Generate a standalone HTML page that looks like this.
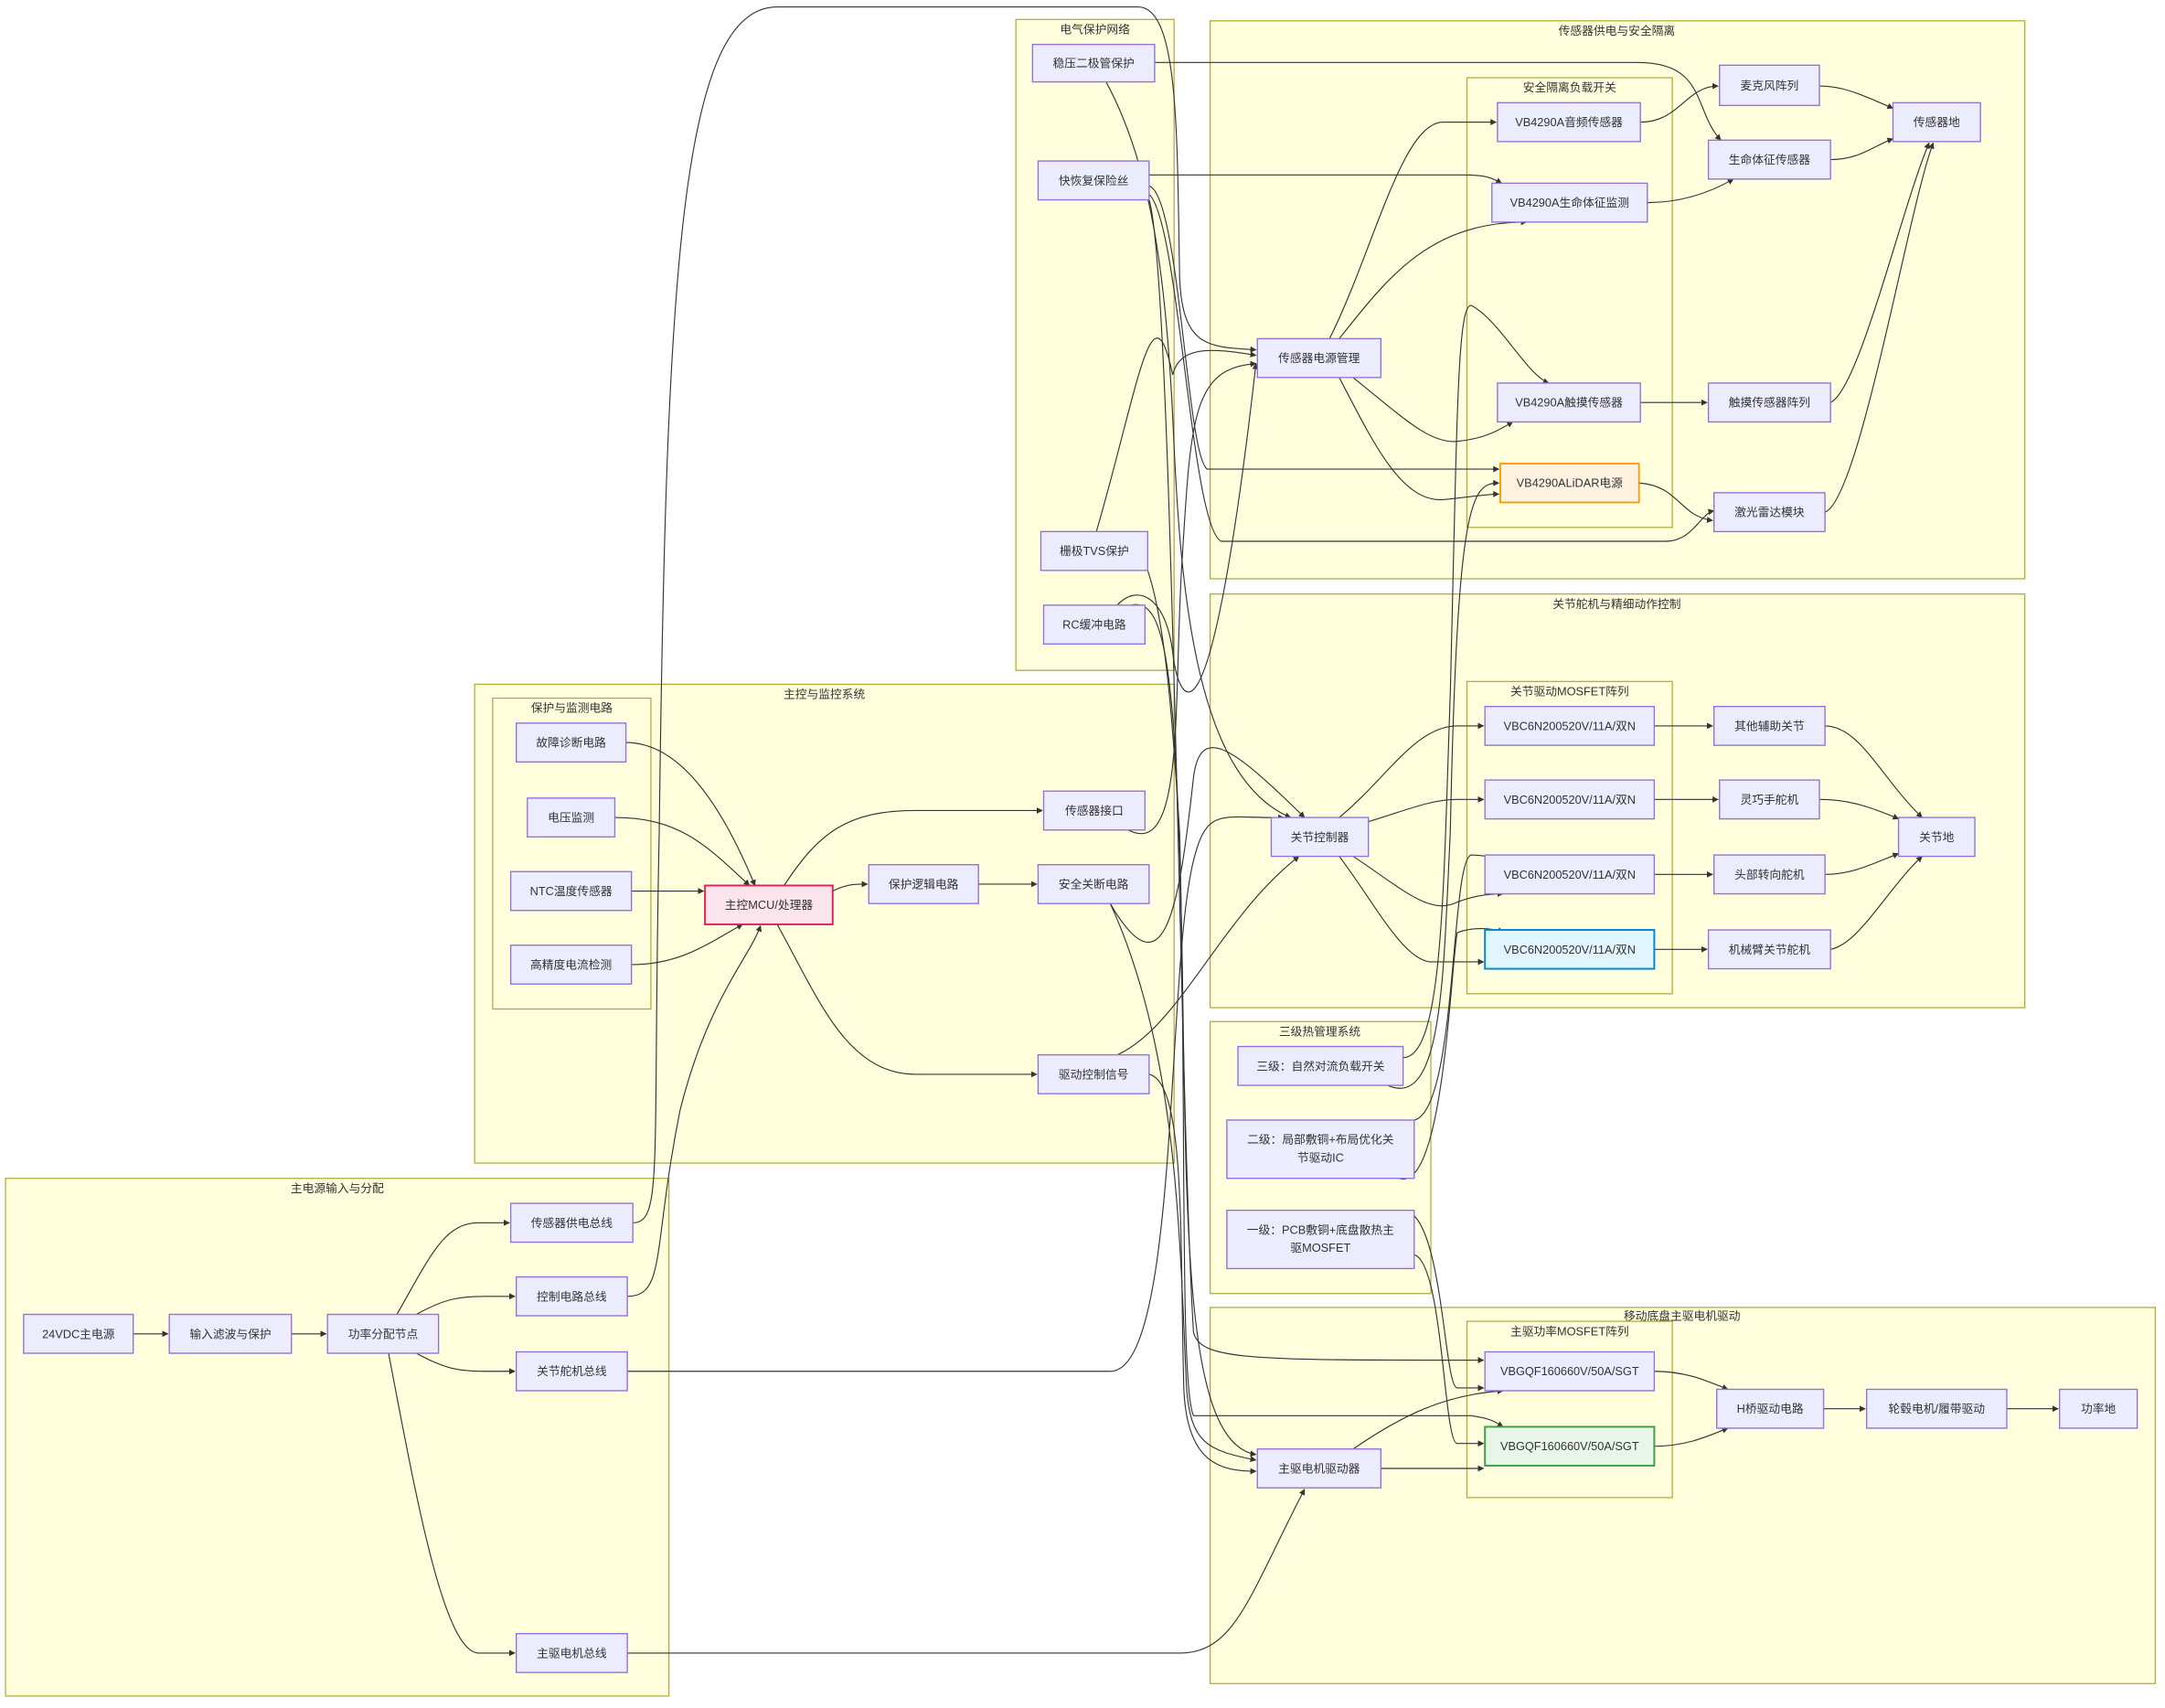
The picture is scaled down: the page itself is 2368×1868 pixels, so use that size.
<!DOCTYPE html>
<html><head><meta charset="utf-8"><style>
html,body{margin:0;padding:0;background:#fff}
svg{display:block}
.c{fill:#ffffde;stroke:#aaaa33;stroke-width:0.8}
.n{fill:#ececff;stroke:#9370db;stroke-width:0.9}
.t{font-family:"Liberation Sans","Noto Sans CJK SC",sans-serif;font-size:8.4px;fill:#333;text-anchor:middle;dominant-baseline:central}
.ct{font-family:"Liberation Sans","Noto Sans CJK SC",sans-serif;font-size:8.4px;fill:#333;text-anchor:middle}
.e{fill:none;stroke:#333;stroke-width:0.75;marker-end:url(#a)}
</style></head><body>
<svg width="2368" height="1868" viewBox="0 0 1560 1230.6" preserveAspectRatio="none" xmlns="http://www.w3.org/2000/svg">
<defs><marker id="a" viewBox="0 0 10 10" refX="9" refY="5" markerWidth="6" markerHeight="6" orient="auto"><path d="M0,0L10,5L0,10z" fill="#333"/></marker></defs>
<rect class="c" x="732" y="14" width="114" height="469"/><text class="ct" x="789" y="24">电气保护网络</text>
<rect class="c" x="872" y="15" width="587" height="402"/><text class="ct" x="1165" y="25">传感器供电与安全隔离</text>
<rect class="c" x="1057" y="56" width="148" height="324"/><text class="ct" x="1131" y="66">安全隔离负载开关</text>
<rect class="c" x="872" y="428" width="587" height="298"/><text class="ct" x="1165" y="438">关节舵机与精细动作控制</text>
<rect class="c" x="1057" y="491" width="148" height="225"/><text class="ct" x="1131" y="501">关节驱动MOSFET阵列</text>
<rect class="c" x="342" y="493" width="504" height="345"/><text class="ct" x="594" y="503">主控与监控系统</text>
<rect class="c" x="355" y="503" width="114" height="224"/><text class="ct" x="412" y="513">保护与监测电路</text>
<rect class="c" x="872" y="736" width="159" height="196"/><text class="ct" x="951" y="746">三级热管理系统</text>
<rect class="c" x="4" y="849" width="478" height="373"/><text class="ct" x="243" y="859">主电源输入与分配</text>
<rect class="c" x="872" y="942" width="681" height="271"/><text class="ct" x="1212" y="951">移动底盘主驱电机驱动</text>
<rect class="c" x="1057" y="952" width="148" height="127"/><text class="ct" x="1131" y="962">主驱功率MOSFET阵列</text>
<path class="e" d="M96,961H121"/>
<path class="e" d="M210,961H235"/>
<path class="e" d="M286,947C310,905 320,881 345,881H367"/>
<path class="e" d="M300,947C320,936 330,934 350,934H371"/>
<path class="e" d="M300,975C320,986 330,988 350,988H371"/>
<path class="e" d="M280,975C300,1080 320,1191 345,1191H371"/>
<path class="e" d="M456,881C478,881 470,840 475,600C480,200 490,5 560,5H820C850,5 848,100 850,200C852,250 870,250 905,252"/>
<path class="e" d="M452,934C480,934 470,900 490,800C510,720 540,690 548,667"/>
<path class="e" d="M452,988H800C850,988 840,700 860,620C870,580 880,590 925,589"/>
<path class="e" d="M452,1191H850C890,1191 900,1150 940,1073"/>
<path class="e" d="M451,535C490,535 520,580 544,638"/>
<path class="e" d="M443,589C490,589 510,610 540,638"/>
<path class="e" d="M455,642H507"/>
<path class="e" d="M455,695C490,695 510,680 535,666"/>
<path class="e" d="M600,642C610,637 615,637 625,637"/>
<path class="e" d="M705,637H747"/>
<path class="e" d="M565,638C590,600 610,584 660,584H751"/>
<path class="e" d="M560,666C590,720 610,774 660,774H747"/>
<path class="e" d="M813,598C855,620 845,500 852,400C858,300 860,265 905,262"/>
<path class="e" d="M800,651C840,720 850,650 860,560C865,520 890,540 940,589"/>
<path class="e" d="M800,651C850,760 850,900 855,1000C858,1040 870,1045 905,1052"/>
<path class="e" d="M805,760C850,740 880,660 936,617"/>
<path class="e" d="M828,774C855,780 850,900 853,1000C855,1055 880,1060 905,1060"/>
<path class="e" d="M832,45H1180C1230,45 1220,80 1240,101"/>
<path class="e" d="M797,59C830,120 840,200 845,300C850,420 860,560 930,589"/>
<path class="e" d="M828,126H1055C1070,126 1075,128 1082,132"/>
<path class="e" d="M828,134C850,140 855,330 870,338H1080"/>
<path class="e" d="M828,140C850,160 858,380 880,390H1200C1220,390 1225,370 1235,368"/>
<path class="e" d="M828,144C845,200 850,800 860,960C865,980 900,980 1069,980"/>
<path class="e" d="M790,383C820,280 830,200 845,270C850,250 870,250 905,256"/>
<path class="e" d="M827,411C840,450 845,520 850,600C855,800 850,1000 860,1020H1060C1075,1022 1078,1025 1083,1028"/>
<path class="e" d="M805,436C820,420 840,430 845,470C848,500 870,570 905,262"/>
<path class="e" d="M815,436C840,430 848,480 852,700C855,900 855,1040 905,1048"/>
<path class="e" d="M958,244C990,180 1010,88 1040,88H1078"/>
<path class="e" d="M965,244C1000,200 1030,160 1100,160"/>
<path class="e" d="M975,272C1010,300 1030,320 1050,318C1070,316 1080,310 1090,304"/>
<path class="e" d="M965,272C990,320 1010,362 1040,360C1060,358 1070,356 1080,356"/>
<path class="e" d="M1182,88C1210,88 1215,62 1238,62"/>
<path class="e" d="M1187,146C1210,146 1230,140 1249,129"/>
<path class="e" d="M1182,290H1230"/>
<path class="e" d="M1181,348C1210,350 1210,372 1234,375"/>
<path class="e" d="M1311,62C1330,62 1345,70 1364,78"/>
<path class="e" d="M1319,115C1340,115 1350,105 1364,100"/>
<path class="e" d="M1319,290C1340,280 1370,150 1390,103"/>
<path class="e" d="M1315,369C1340,360 1375,150 1393,103"/>
<path class="e" d="M1011,762C1040,762 1040,640 1045,500C1050,300 1050,220 1060,220C1080,230 1100,270 1116,276"/>
<path class="e" d="M1000,782C1040,800 1040,700 1045,600C1050,360 1060,348 1080,348"/>
<path class="e" d="M1019,807C1050,800 1045,620 1060,616C1070,616 1075,618 1083,620"/>
<path class="e" d="M1008,849C1040,860 1045,700 1050,672C1060,668 1075,668 1083,672"/>
<path class="e" d="M1010,872C1040,870 1040,1000 1050,1000H1069"/>
<path class="e" d="M1019,904C1040,910 1040,1040 1050,1040H1069"/>
<path class="e" d="M965,589C1000,560 1020,523 1050,523H1069"/>
<path class="e" d="M986,592C1010,585 1030,576 1050,576H1069"/>
<path class="e" d="M975,617C1010,640 1030,660 1050,650C1060,646 1070,644 1083,644"/>
<path class="e" d="M965,617C990,650 1010,690 1030,693H1069"/>
<path class="e" d="M1192,523H1234"/>
<path class="e" d="M1192,576H1238"/>
<path class="e" d="M1192,630H1234"/>
<path class="e" d="M1192,684H1230"/>
<path class="e" d="M1315,523C1340,523 1355,560 1385,589"/>
<path class="e" d="M1311,576C1330,576 1345,580 1368,590"/>
<path class="e" d="M1315,630C1335,630 1350,622 1368,615"/>
<path class="e" d="M1319,684C1340,680 1360,640 1385,617"/>
<path class="e" d="M975,1044C1010,1020 1040,1005 1083,1002"/>
<path class="e" d="M995,1058H1069"/>
<path class="e" d="M1192,988C1215,988 1230,995 1245,1001"/>
<path class="e" d="M1192,1042C1215,1042 1230,1035 1245,1029"/>
<path class="e" d="M1314,1015H1344"/>
<path class="e" d="M1446,1015H1483"/>
<g>
<rect class="n" x="744" y="32" width="88" height="27"/><text class="t" x="788" y="45.5">稳压二极管保护</text>
<rect class="n" x="748" y="116" width="80" height="28"/><text class="t" x="788" y="130">快恢复保险丝</text>
<rect class="n" x="750" y="383" width="77" height="28"/><text class="t" x="788.5" y="397">栅极TVS保护</text>
<rect class="n" x="752" y="436" width="73" height="28"/><text class="t" x="788.5" y="450">RC缓冲电路</text>
<rect class="n" x="906" y="244" width="89" height="28"/><text class="t" x="950.5" y="258">传感器电源管理</text>
<rect class="n" x="1079" y="74" width="103" height="28"/><text class="t" x="1130.5" y="88">VB4290A音频传感器</text>
<rect class="n" x="1075" y="132" width="112" height="28"/><text class="t" x="1131" y="146">VB4290A生命体征监测</text>
<rect class="n" x="1079" y="276" width="103" height="28"/><text class="t" x="1130.5" y="290">VB4290A触摸传感器</text>
<rect x="1081" y="334" width="100" height="28" fill="#fff3e0" stroke="#ff9800" stroke-width="1.2"/><text class="t" x="1131" y="348">VB4290ALiDAR电源</text>
<rect class="n" x="1239" y="47" width="72" height="29"/><text class="t" x="1275" y="61.5">麦克风阵列</text>
<rect class="n" x="1231" y="101" width="88" height="28"/><text class="t" x="1275" y="115">生命体征传感器</text>
<rect class="n" x="1231" y="276" width="88" height="28"/><text class="t" x="1275" y="290">触摸传感器阵列</text>
<rect class="n" x="1235" y="355" width="80" height="28"/><text class="t" x="1275" y="369">激光雷达模块</text>
<rect class="n" x="1364" y="74" width="63" height="28"/><text class="t" x="1395.5" y="88">传感器地</text>
<rect class="n" x="372" y="521" width="79" height="28"/><text class="t" x="411.5" y="535">故障诊断电路</text>
<rect class="n" x="380" y="575" width="63" height="28"/><text class="t" x="411.5" y="589">电压监测</text>
<rect class="n" x="368" y="628" width="87" height="28"/><text class="t" x="411.5" y="642">NTC温度传感器</text>
<rect class="n" x="368" y="681" width="87" height="28"/><text class="t" x="411.5" y="695">高精度电流检测</text>
<rect x="508" y="638" width="92" height="28" fill="#fce4ec" stroke="#e0245e" stroke-width="1.3"/><text class="t" x="554" y="652">主控MCU/处理器</text>
<rect class="n" x="626" y="623" width="79" height="28"/><text class="t" x="665.5" y="637">保护逻辑电路</text>
<rect class="n" x="752" y="570" width="73" height="28"/><text class="t" x="788.5" y="584">传感器接口</text>
<rect class="n" x="748" y="623" width="80" height="28"/><text class="t" x="788" y="637">安全关断电路</text>
<rect class="n" x="748" y="760" width="80" height="28"/><text class="t" x="788" y="774">驱动控制信号</text>
<rect class="n" x="916" y="589" width="70" height="28"/><text class="t" x="951" y="603">关节控制器</text>
<rect class="n" x="1070" y="509" width="122" height="28"/><text class="t" x="1131" y="523">VBC6N200520V/11A/双N</text>
<rect class="n" x="1070" y="562" width="122" height="28"/><text class="t" x="1131" y="576">VBC6N200520V/11A/双N</text>
<rect class="n" x="1070" y="616" width="122" height="28"/><text class="t" x="1131" y="630">VBC6N200520V/11A/双N</text>
<rect x="1070" y="670" width="122" height="28" fill="#e1f5fe" stroke="#0288d1" stroke-width="1.3"/><text class="t" x="1131" y="684">VBC6N200520V/11A/双N</text>
<rect class="n" x="1235" y="509" width="80" height="28"/><text class="t" x="1275" y="523">其他辅助关节</text>
<rect class="n" x="1239" y="562" width="72" height="28"/><text class="t" x="1275" y="576">灵巧手舵机</text>
<rect class="n" x="1235" y="616" width="80" height="28"/><text class="t" x="1275" y="630">头部转向舵机</text>
<rect class="n" x="1231" y="670" width="88" height="28"/><text class="t" x="1275" y="684">机械臂关节舵机</text>
<rect class="n" x="1368" y="589" width="55" height="28"/><text class="t" x="1395.5" y="603">关节地</text>
<rect class="n" x="892" y="754" width="119" height="28"/><text class="t" x="951.5" y="768">三级：自然对流负载开关</text>
<rect class="n" x="884" y="807" width="135" height="42"/><text class="t" x="951.5" y="821">二级：局部敷铜+布局优化关</text><text class="t" x="951.5" y="834">节驱动IC</text>
<rect class="n" x="884" y="872" width="135" height="42"/><text class="t" x="951.5" y="886">一级：PCB敷铜+底盘散热主</text><text class="t" x="951.5" y="899">驱MOSFET</text>
<rect class="n" x="17" y="947" width="79" height="28"/><text class="t" x="56.5" y="961">24VDC主电源</text>
<rect class="n" x="122" y="947" width="88" height="28"/><text class="t" x="166" y="961">输入滤波与保护</text>
<rect class="n" x="236" y="947" width="80" height="28"/><text class="t" x="276" y="961">功率分配节点</text>
<rect class="n" x="368" y="867" width="88" height="28"/><text class="t" x="412" y="881">传感器供电总线</text>
<rect class="n" x="372" y="920" width="80" height="28"/><text class="t" x="412" y="934">控制电路总线</text>
<rect class="n" x="372" y="974" width="80" height="28"/><text class="t" x="412" y="988">关节舵机总线</text>
<rect class="n" x="372" y="1177" width="80" height="28"/><text class="t" x="412" y="1191">主驱电机总线</text>
<rect class="n" x="1070" y="974" width="122" height="28"/><text class="t" x="1131" y="988">VBGQF160660V/50A/SGT</text>
<rect x="1070" y="1028" width="122" height="28" fill="#e8f5e9" stroke="#43a047" stroke-width="1.3"/><text class="t" x="1131" y="1042">VBGQF160660V/50A/SGT</text>
<rect class="n" x="1237" y="1001" width="77" height="28"/><text class="t" x="1275.5" y="1015">H桥驱动电路</text>
<rect class="n" x="1345" y="1001" width="101" height="28"/><text class="t" x="1395.5" y="1015">轮毂电机/履带驱动</text>
<rect class="n" x="1484" y="1001" width="56" height="28"/><text class="t" x="1512" y="1015">功率地</text>
<rect class="n" x="906" y="1044" width="89" height="28"/><text class="t" x="950.5" y="1058">主驱电机驱动器</text>
</g>
</svg>
</body></html>
